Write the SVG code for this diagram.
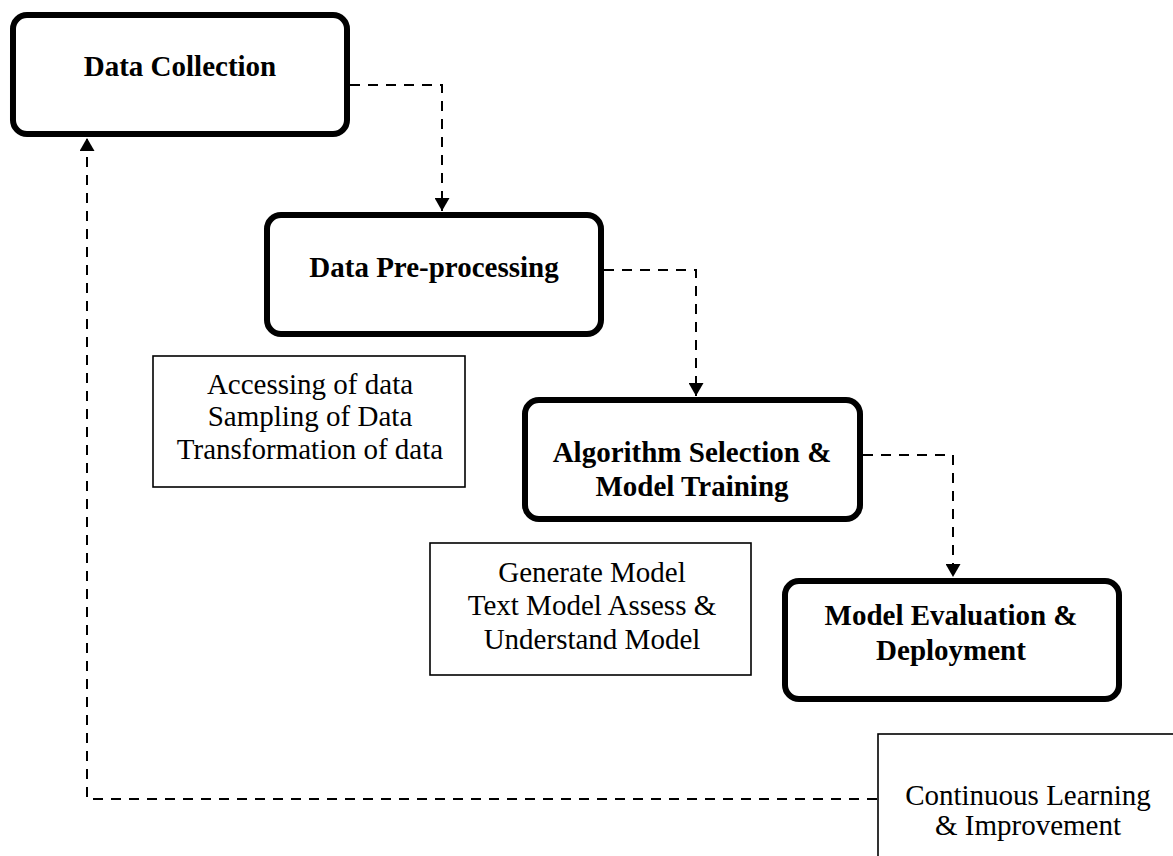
<svg xmlns="http://www.w3.org/2000/svg" width="1173" height="856" viewBox="0 0 1173 856">
<defs>
<style>
.step{fill:#fff;stroke:#000;stroke-width:6}
.note{fill:#fff;stroke:#000;stroke-width:1.6}
.conn{fill:none;stroke:#000;stroke-width:2;stroke-dasharray:10 8}
.tb{font-family:"Liberation Serif","Times New Roman",serif;font-weight:bold;font-size:29px;fill:#000;text-anchor:middle}
.tr{font-family:"Liberation Serif","Times New Roman",serif;font-size:29px;fill:#000;text-anchor:middle}
</style>
<marker id="arr" viewBox="0 0 13 15" refX="13" refY="7.5" markerWidth="13" markerHeight="15" markerUnits="userSpaceOnUse" orient="auto">
<path d="M0,0 L13,7.5 L0,15 z" fill="#000"/>
</marker>
</defs>
<rect width="1173" height="856" fill="#fff"/>
<g id="connectors">
<path class="conn" d="M350,85 H442 V211" marker-end="url(#arr)"/>
<path class="conn" d="M604,270 H696 V396" marker-end="url(#arr)"/>
<path class="conn" d="M863,455 H953 V577" marker-end="url(#arr)"/>
<path class="conn" d="M877,799 H87 V138" marker-end="url(#arr)"/>
</g>
<g id="data-collection">
<rect class="step" x="13" y="15" width="334" height="119" rx="14"/>
<text class="tb" x="180" y="76">Data Collection</text>
</g>
<g id="data-preprocessing">
<rect class="step" x="267" y="215" width="334" height="119" rx="14"/>
<text class="tb" x="434" y="277">Data Pre-processing</text>
</g>
<g id="preprocessing-notes">
<rect class="note" x="153" y="356" width="312" height="131"/>
<text class="tr" x="310" y="394">Accessing of data</text>
<text class="tr" x="310" y="426">Sampling of Data</text>
<text class="tr" x="310" y="459">Transformation of data</text>
</g>
<g id="algorithm-selection">
<rect class="step" x="525" y="400" width="335" height="119" rx="14"/>
<text class="tb" x="692" y="462">Algorithm Selection &amp;</text>
<text class="tb" x="692" y="496">Model Training</text>
</g>
<g id="training-notes">
<rect class="note" x="430" y="543" width="321" height="132"/>
<text class="tr" x="592" y="582">Generate Model</text>
<text class="tr" x="592" y="615">Text Model Assess &amp;</text>
<text class="tr" x="592" y="649">Understand Model</text>
</g>
<g id="model-evaluation">
<rect class="step" x="785" y="581" width="334" height="118" rx="14"/>
<text class="tb" x="951" y="625">Model Evaluation &amp;</text>
<text class="tb" x="951" y="660">Deployment</text>
</g>
<g id="continuous-learning">
<rect class="note" x="878" y="734" width="302" height="140"/>
<text class="tr" x="1028" y="805">Continuous Learning</text>
<text class="tr" x="1028" y="835">&amp; Improvement</text>
</g>
</svg>
